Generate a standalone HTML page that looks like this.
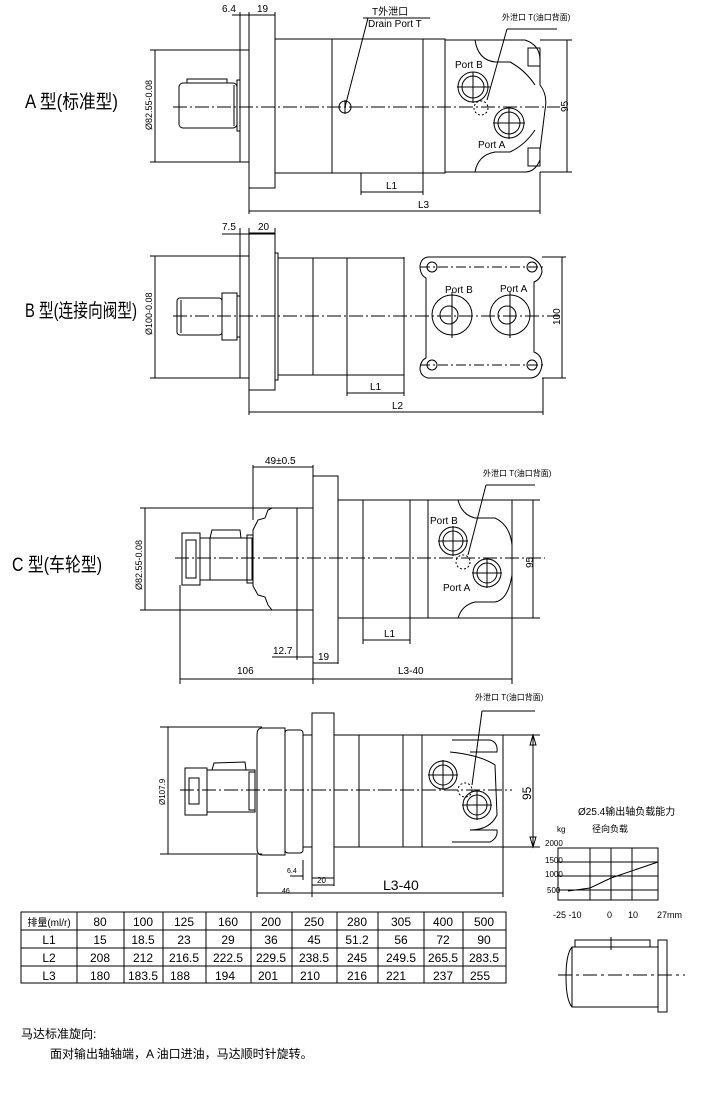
<!DOCTYPE html>
<html><head><meta charset="utf-8">
<style>
html,body{margin:0;padding:0;background:#fff;}
svg{display:block;}
text{font-family:"Liberation Sans","Noto Sans CJK SC",sans-serif;fill:#000;}
</style></head>
<body>
<svg width="712" height="1098" viewBox="0 0 712 1098" xmlns="http://www.w3.org/2000/svg">
<g fill="none" stroke="#000" stroke-width="1">

<!-- ========== VIEW A ========== -->
<line x1="173" y1="107" x2="560" y2="107" stroke-dasharray="14,3,2,3"/>
<rect x="179" y="83" width="58" height="45" rx="4"/>
<rect x="187" y="79" width="40" height="4"/>
<line x1="234" y1="85" x2="234" y2="126"/>
<rect x="237" y="80" width="3" height="51"/>
<rect x="240" y="50" width="9" height="112"/>
<rect x="249" y="15" width="26" height="173"/>
<rect x="275" y="39" width="170" height="134"/>
<line x1="332" y1="39" x2="332" y2="173"/>
<line x1="423" y1="39" x2="423" y2="173"/>
<path d="M445 40 L525 40 Q540 45 540 60 L540 85 Q548 95 545 110 L540 150 L540 160 Q535 172 525 172 L445 172"/>
<path d="M475 40 Q478 60 495 62 L510 62 Q525 70 535 85"/>
<path d="M475 172 Q478 155 495 152 L510 152 Q525 145 535 130"/>
<rect x="528" y="48" width="12" height="18"/>
<rect x="528" y="148" width="12" height="18"/>
<circle cx="473" cy="87" r="15"/><circle cx="473" cy="87" r="11"/>
<line x1="457" y1="87" x2="490" y2="87"/><line x1="473" y1="72" x2="473" y2="103"/>
<circle cx="509" cy="123" r="15"/><circle cx="509" cy="123" r="11"/>
<line x1="493" y1="123" x2="525" y2="123"/><line x1="509" y1="107" x2="509" y2="139"/>
<circle cx="481" cy="108" r="7" stroke-dasharray="2,2"/>
<circle cx="345" cy="107" r="6"/>
<line x1="345" y1="100" x2="345" y2="114"/>
<!-- A dims -->
<line x1="155" y1="50" x2="155" y2="162"/>
<line x1="150" y1="50" x2="240" y2="50"/><line x1="150" y1="162" x2="240" y2="162"/>
<line x1="240" y1="12" x2="240" y2="50"/><line x1="249" y1="12" x2="249" y2="15"/>
<line x1="275" y1="12" x2="275" y2="15"/>
<line x1="232" y1="15" x2="275" y2="15"/>
<line x1="345" y1="107" x2="368" y2="18"/><line x1="363" y1="18" x2="430" y2="18"/>
<line x1="487" y1="100" x2="507" y2="29"/><line x1="507" y1="29" x2="557" y2="29"/>
<line x1="540" y1="40" x2="572" y2="40"/><line x1="540" y1="172" x2="572" y2="172"/>
<line x1="567" y1="40" x2="567" y2="172"/>
<line x1="361" y1="173" x2="361" y2="195"/><line x1="423" y1="173" x2="423" y2="195"/>
<line x1="361" y1="192" x2="423" y2="192"/>
<line x1="249" y1="188" x2="249" y2="214"/><line x1="540" y1="172" x2="540" y2="214"/>
<line x1="249" y1="211" x2="540" y2="211"/>

<!-- ========== VIEW B ========== -->
<line x1="173" y1="316" x2="560" y2="316" stroke-dasharray="14,3,2,3"/>
<rect x="177" y="298" width="45" height="37" rx="3"/>
<line x1="181" y1="300" x2="181" y2="333"/>
<rect x="222" y="293" width="15" height="47"/>
<rect x="237" y="296" width="3" height="41"/>
<rect x="240" y="256" width="9" height="122"/>
<rect x="249" y="233" width="26" height="157"/>
<rect x="275" y="253" width="3" height="127"/>
<rect x="278" y="258" width="126" height="117"/>
<line x1="313" y1="258" x2="313" y2="375"/>
<line x1="347" y1="258" x2="347" y2="375"/>
<path d="M428 257 L530 257 Q542 262 542 272 Q540 280 534 282 L534 352 Q542 355 542 365 Q540 378 530 378 L428 378 Q420 376 420 368 Q421 360 426 358 L426 278 Q420 275 420 266 Q421 258 428 257 Z"/>
<line x1="404" y1="257" x2="404" y2="378"/>
<circle cx="432" cy="267" r="5"/><circle cx="532" cy="267" r="5"/>
<circle cx="432" cy="365" r="5"/><circle cx="532" cy="365" r="5"/>
<line x1="420" y1="267" x2="545" y2="267" stroke-dasharray="10,3,2,3"/>
<line x1="420" y1="365" x2="545" y2="365" stroke-dasharray="10,3,2,3"/>
<circle cx="452" cy="315" r="20"/><circle cx="449" cy="315" r="9"/>
<line x1="452" y1="292" x2="452" y2="338"/>
<circle cx="510" cy="315" r="20"/><circle cx="507" cy="315" r="9"/>
<line x1="510" y1="292" x2="510" y2="338"/>
<line x1="155" y1="256" x2="155" y2="378"/>
<line x1="150" y1="256" x2="240" y2="256"/><line x1="150" y1="378" x2="240" y2="378"/>
<line x1="240" y1="228" x2="240" y2="256"/><line x1="249" y1="228" x2="249" y2="233"/>
<line x1="275" y1="228" x2="275" y2="233"/>
<line x1="222" y1="234" x2="275" y2="234"/>
<line x1="542" y1="257" x2="566" y2="257"/><line x1="542" y1="378" x2="566" y2="378"/>
<line x1="562" y1="257" x2="562" y2="378"/>
<line x1="347" y1="375" x2="347" y2="396"/><line x1="404" y1="378" x2="404" y2="396"/>
<line x1="347" y1="393" x2="404" y2="393"/>
<line x1="249" y1="390" x2="249" y2="415"/><line x1="543" y1="378" x2="543" y2="415"/>
<line x1="249" y1="412" x2="543" y2="412"/>

<!-- ========== VIEW C ========== -->
<line x1="175" y1="558" x2="545" y2="558" stroke-dasharray="14,3,2,3"/>
<rect x="182" y="533" width="18" height="52"/>
<rect x="186" y="540" width="10" height="38"/>
<rect x="200" y="538" width="52" height="42"/>
<line x1="210" y1="538" x2="210" y2="580"/>
<path d="M210 538 L212 530 L240 530 L241 538"/>
<rect x="247" y="535" width="6" height="48"/>
<path d="M253 530 L258 520 L265 518 L268 510 L272 508 L297 508 L297 610 L272 610 L268 605 L265 597 L258 595 L253 586 Z"/>
<rect x="297" y="508" width="16" height="102"/>
<rect x="313" y="476" width="25" height="187"/>
<rect x="338" y="500" width="174" height="118"/>
<line x1="363" y1="500" x2="363" y2="618"/>
<line x1="410" y1="500" x2="410" y2="618"/>
<line x1="428" y1="500" x2="428" y2="618"/>
<path d="M458 500 Q462 515 475 518 L495 518 Q510 525 512 545 L512 575 Q508 600 495 602 L475 602 Q462 605 458 618"/>
<circle cx="453" cy="541" r="14"/><circle cx="453" cy="541" r="10"/>
<line x1="438" y1="541" x2="468" y2="541"/><line x1="453" y1="526" x2="453" y2="556"/>
<circle cx="487" cy="573" r="14"/><circle cx="487" cy="573" r="10"/>
<line x1="472" y1="573" x2="502" y2="573"/><line x1="487" y1="558" x2="487" y2="588"/>
<circle cx="463" cy="562" r="7" stroke-dasharray="2,2"/>
<line x1="145" y1="508" x2="145" y2="610"/>
<line x1="140" y1="508" x2="313" y2="508"/><line x1="140" y1="610" x2="313" y2="610"/>
<line x1="253" y1="465" x2="253" y2="520"/><line x1="313" y1="465" x2="313" y2="476"/>
<line x1="253" y1="467" x2="313" y2="467"/>
<line x1="512" y1="500" x2="540" y2="500"/><line x1="512" y1="618" x2="540" y2="618"/>
<line x1="533" y1="500" x2="533" y2="618"/>
<line x1="468" y1="555" x2="486" y2="485"/><line x1="486" y1="485" x2="535" y2="485"/>
<line x1="363" y1="618" x2="363" y2="644"/><line x1="410" y1="618" x2="410" y2="644"/>
<line x1="363" y1="640" x2="410" y2="640"/>
<line x1="297" y1="610" x2="297" y2="660"/><line x1="272" y1="657" x2="313" y2="657"/>
<line x1="313" y1="663" x2="313" y2="684"/><line x1="338" y1="663" x2="338" y2="664"/>
<line x1="180" y1="585" x2="180" y2="684"/><line x1="512" y1="618" x2="512" y2="684"/>
<line x1="180" y1="679" x2="512" y2="679"/>

<!-- ========== VIEW D ========== -->
<line x1="180" y1="790" x2="512" y2="790" stroke-dasharray="14,3,2,3"/>
<rect x="185" y="768" width="22" height="47"/>
<rect x="189" y="778" width="10" height="26"/>
<rect x="207" y="770" width="48" height="42"/>
<path d="M212 770 L214 763 L245 762 L246 770"/>
<rect x="249" y="772" width="6" height="38"/>
<path d="M262 728 L285 728 L285 855 L262 855 Q257 855 257 848 L257 735 Q257 728 262 728 Z"/>
<rect x="285" y="730" width="18" height="123" rx="3"/>
<rect x="303" y="735" width="9" height="112"/>
<rect x="312" y="713" width="22" height="172"/>
<rect x="334" y="735" width="169" height="112"/>
<line x1="359" y1="735" x2="359" y2="847"/>
<line x1="403" y1="735" x2="403" y2="847"/>
<line x1="422" y1="735" x2="422" y2="847"/>
<path d="M452 740 L490 740 Q498 742 497 752 L470 752 M452 842 L490 842 Q498 838 497 830 L470 830"/>
<path d="M450 752 Q480 755 495 765 L497 815 Q490 830 470 830"/>
<circle cx="443" cy="775" r="14"/><circle cx="443" cy="775" r="10"/>
<line x1="428" y1="775" x2="458" y2="775"/><line x1="443" y1="760" x2="443" y2="790"/>
<circle cx="477" cy="805" r="14"/><circle cx="477" cy="805" r="10"/>
<line x1="462" y1="805" x2="492" y2="805"/><line x1="477" y1="790" x2="477" y2="820"/>
<circle cx="465" cy="790" r="7" stroke-dasharray="2,2"/>
<line x1="168" y1="727" x2="168" y2="854"/>
<line x1="160" y1="727" x2="262" y2="727"/><line x1="160" y1="854" x2="262" y2="854"/>
<line x1="472" y1="785" x2="482" y2="711"/><line x1="482" y1="711" x2="535" y2="711"/>
<line x1="503" y1="735" x2="540" y2="735"/><line x1="503" y1="847" x2="540" y2="847"/>
<line x1="533" y1="735" x2="533" y2="847"/>
<path d="M530 745 L533 735 L536 745 Z M530 837 L533 847 L536 837 Z"/>
<line x1="257" y1="855" x2="257" y2="897"/><line x1="312" y1="885" x2="312" y2="897"/>
<line x1="503" y1="847" x2="503" y2="897"/>
<line x1="257" y1="893" x2="503" y2="893"/>
<line x1="290" y1="876" x2="303" y2="876"/><line x1="303" y1="860" x2="303" y2="880"/>
<line x1="312" y1="878" x2="334" y2="878"/><line x1="334" y1="885" x2="334" y2="886"/>

<!-- ========== GRAPH ========== -->
<rect x="558" y="848" width="100" height="52"/>
<line x1="590" y1="848" x2="590" y2="900"/>
<line x1="611" y1="848" x2="611" y2="900"/>
<line x1="632" y1="848" x2="632" y2="900"/>
<line x1="558" y1="862" x2="658" y2="862"/>
<line x1="558" y1="876" x2="658" y2="876"/>
<line x1="558" y1="890" x2="658" y2="890"/>
<polyline points="568,891 590,888 611,878 658,862"/>
<!-- shaft sketch -->
<rect x="575" y="940" width="75" height="7"/>
<path d="M572 947 L658 947 L658 1007 L572 1007 Q566 1000 566 977 Q566 954 572 947 Z"/>
<line x1="572" y1="947" x2="572" y2="1007"/>
<rect x="658" y="940" width="9" height="72"/>
<line x1="558" y1="975" x2="685" y2="975" stroke-dasharray="14,4,3,4"/>
<line x1="611" y1="937" x2="611" y2="950"/>

<!-- ========== TABLE ========== -->
<rect x="21" y="912" width="485" height="71"/>
<line x1="21" y1="930" x2="506" y2="930"/>
<line x1="21" y1="948" x2="506" y2="948"/>
<line x1="21" y1="966" x2="506" y2="966"/>
<line x1="77" y1="912" x2="77" y2="983"/><line x1="124" y1="912" x2="124" y2="983"/>
<line x1="163" y1="912" x2="163" y2="983"/><line x1="206" y1="912" x2="206" y2="983"/>
<line x1="251" y1="912" x2="251" y2="983"/><line x1="292" y1="912" x2="292" y2="983"/>
<line x1="337" y1="912" x2="337" y2="983"/><line x1="378" y1="912" x2="378" y2="983"/>
<line x1="424" y1="912" x2="424" y2="983"/><line x1="463" y1="912" x2="463" y2="983"/>
</g>

<!-- ========== TEXT ========== -->
<g font-size="11">
<text x="25" y="108" font-size="19" textLength="93" lengthAdjust="spacingAndGlyphs">A 型(标准型)</text>
<text x="25" y="317" font-size="19" textLength="112" lengthAdjust="spacingAndGlyphs">B 型(连接向阀型)</text>
<text x="12" y="571" font-size="19" textLength="90" lengthAdjust="spacingAndGlyphs">C 型(车轮型)</text>

<text x="222" y="12" font-size="10">6.4</text>
<text x="257" y="12" font-size="10">19</text>
<text x="372" y="15" font-size="10">T外泄口</text>
<text x="368" y="27" font-size="10">Drain Port T</text>
<text x="502" y="20" font-size="8">外泄口 T(油口背面)</text>
<text x="455" y="68" font-size="10">Port B</text>
<text x="478" y="148" font-size="10">Port A</text>
<text x="386" y="189" font-size="10">L1</text>
<text x="418" y="208" font-size="10">L3</text>
<text transform="translate(568,112) rotate(-90)" font-size="10">95</text>
<text transform="translate(152,130) rotate(-90)" font-size="9">Ø82.55-0.08</text>

<text x="222" y="230" font-size="10">7.5</text>
<text x="258" y="230" font-size="10">20</text>
<text x="445" y="293" font-size="10">Port B</text>
<text x="500" y="292" font-size="10">Port A</text>
<text x="370" y="390" font-size="10">L1</text>
<text x="392" y="409" font-size="10">L2</text>
<text transform="translate(560,325) rotate(-90)" font-size="10">100</text>
<text transform="translate(152,335) rotate(-90)" font-size="9">Ø100-0.08</text>

<text x="265" y="464" font-size="10">49±0.5</text>
<text x="483" y="476" font-size="8">外泄口 T(油口背面)</text>
<text x="430" y="524" font-size="10">Port B</text>
<text x="443" y="591" font-size="10">Port A</text>
<text x="384" y="637" font-size="10">L1</text>
<text x="273" y="654" font-size="10">12.7</text>
<text x="318" y="660" font-size="10">19</text>
<text x="237" y="674" font-size="10">106</text>
<text x="398" y="674" font-size="10">L3-40</text>
<text transform="translate(533,568) rotate(-90)" font-size="10">95</text>
<text transform="translate(142,590) rotate(-90)" font-size="9">Ø82.55-0.08</text>

<text x="475" y="700" font-size="8">外泄口 T(油口背面)</text>
<text transform="translate(531,800) rotate(-90)" font-size="12">95</text>
<text transform="translate(165,805) rotate(-90)" font-size="8">Ø107.9</text>
<text x="287" y="873" font-size="7">6.4</text>
<text x="317" y="883" font-size="8">20</text>
<text x="282" y="893" font-size="7">46</text>
<text x="383" y="890" font-size="14">L3-40</text>

<text x="578" y="815" font-size="10">Ø25.4输出轴负载能力</text>
<text x="592" y="832" font-size="9">径向负载</text>
<text x="557" y="832" font-size="8">kg</text>
<text x="545" y="846" font-size="8">2000</text>
<text x="545" y="863" font-size="8">1500</text>
<text x="545" y="877" font-size="8">1000</text>
<text x="547" y="893" font-size="8">500</text>
<text x="553" y="918" font-size="9">-25 -10</text>
<text x="607" y="918" font-size="9">0</text>
<text x="628" y="918" font-size="9">10</text>
<text x="657" y="918" font-size="9">27mm</text>

<g font-size="12" text-anchor="middle">
<text x="49" y="926" font-size="10">排量(ml/r)</text>
<text x="100" y="926">80</text><text x="143" y="926">100</text><text x="184" y="926">125</text><text x="228" y="926">160</text><text x="271" y="926">200</text><text x="314" y="926">250</text><text x="357" y="926">280</text><text x="401" y="926">305</text><text x="443" y="926">400</text><text x="484" y="926">500</text>
<text x="49" y="944">L1</text>
<text x="100" y="944">15</text><text x="143" y="944">18.5</text><text x="184" y="944">23</text><text x="228" y="944">29</text><text x="271" y="944">36</text><text x="314" y="944">45</text><text x="357" y="944">51.2</text><text x="401" y="944">56</text><text x="443" y="944">72</text><text x="484" y="944">90</text>
<text x="49" y="962">L2</text>
<text x="100" y="962">208</text><text x="143" y="962">212</text><text x="184" y="962">216.5</text><text x="228" y="962">222.5</text><text x="271" y="962">229.5</text><text x="314" y="962">238.5</text><text x="357" y="962">245</text><text x="401" y="962">249.5</text><text x="443" y="962">265.5</text><text x="484" y="962">283.5</text>
<text x="49" y="980">L3</text>
<text x="100" y="980">180</text><text x="143" y="980">183.5</text><text x="180" y="980">188</text><text x="225" y="980">194</text><text x="268" y="980">201</text><text x="310" y="980">210</text><text x="357" y="980">216</text><text x="396" y="980">221</text><text x="443" y="980">237</text><text x="480" y="980">255</text>
</g>

<text x="21" y="1038" font-size="12">马达标准旋向:</text>
<text x="50" y="1058" font-size="12">面对输出轴轴端，A 油口进油，马达顺时针旋转。</text>
</g>
</svg>
</body></html>
